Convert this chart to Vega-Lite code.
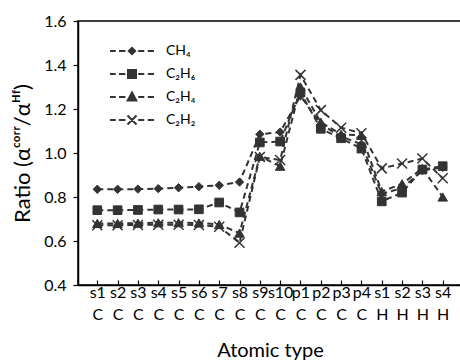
{
  "$schema": "https://vega.github.io/schema/vega-lite/v6.json",
  "width": 384,
  "height": 264,
  "autosize": "none",
  "padding": {"left": 78, "top": 21, "right": 0, "bottom": 77},
  "background": "white",
  "config": {
    "font": "Lato",
    "view": {"stroke": "black", "strokeWidth": 1.5},
    "axis": {"domainColor": "black", "domainWidth": 1.5, "tickColor": "black", "labelColor": "black", "titleColor": "black", "labelFont": "Lato", "titleFont": "Lato", "titleFontWeight": "normal", "grid": false}
  },
  "data": {
    "values": [
      {"i": 0, "atom": "s1|C", "CH4": 0.835, "C2H6": 0.74, "C2H4": 0.68, "C2H2": 0.672},
      {"i": 1, "atom": "s2|C", "CH4": 0.835, "C2H6": 0.74, "C2H4": 0.68, "C2H2": 0.672},
      {"i": 2, "atom": "s3|C", "CH4": 0.836, "C2H6": 0.741, "C2H4": 0.681, "C2H2": 0.673},
      {"i": 3, "atom": "s4|C", "CH4": 0.838, "C2H6": 0.743, "C2H4": 0.683, "C2H2": 0.674},
      {"i": 4, "atom": "s5|C", "CH4": 0.842, "C2H6": 0.743, "C2H4": 0.683, "C2H2": 0.674},
      {"i": 5, "atom": "s6|C", "CH4": 0.847, "C2H6": 0.744, "C2H4": 0.682, "C2H2": 0.673},
      {"i": 6, "atom": "s7|C", "CH4": 0.853, "C2H6": 0.775, "C2H4": 0.675, "C2H2": 0.665},
      {"i": 7, "atom": "s8|C", "CH4": 0.868, "C2H6": 0.73, "C2H4": 0.636, "C2H2": 0.592},
      {"i": 8, "atom": "s9|C", "CH4": 1.085, "C2H6": 1.048, "C2H4": 0.985, "C2H2": 0.982},
      {"i": 9, "atom": "s10|C", "CH4": 1.095, "C2H6": 1.052, "C2H4": 0.94, "C2H2": 0.968},
      {"i": 10, "atom": "p1|C", "CH4": 1.26, "C2H6": 1.275, "C2H4": 1.3, "C2H2": 1.355},
      {"i": 11, "atom": "p2|C", "CH4": 1.13, "C2H6": 1.11, "C2H4": 1.14, "C2H2": 1.195},
      {"i": 12, "atom": "p3|C", "CH4": 1.075, "C2H6": 1.067, "C2H4": 1.085, "C2H2": 1.115},
      {"i": 13, "atom": "p4|C", "CH4": 1.04, "C2H6": 1.02, "C2H4": 1.08, "C2H2": 1.09},
      {"i": 14, "atom": "s1|H", "CH4": 0.815, "C2H6": 0.78, "C2H4": 0.825, "C2H2": 0.93},
      {"i": 15, "atom": "s2|H", "CH4": 0.84, "C2H6": 0.82, "C2H4": 0.86, "C2H2": 0.952},
      {"i": 16, "atom": "s3|H", "CH4": 0.92, "C2H6": 0.925, "C2H4": 0.93, "C2H2": 0.975},
      {"i": 17, "atom": "s4|H", "CH4": 0.935, "C2H6": 0.94, "C2H4": 0.8, "C2H2": 0.885}
    ]
  },
  "transform": [
    {"fold": ["CH4", "C2H6", "C2H4", "C2H2"], "as": ["mol", "v"]}
  ],
  "encoding": {
    "x": {
      "field": "atom", "type": "nominal", "sort": null,
      "scale": {"type": "point", "padding": 0.95},
      "axis": {"title": "Atomic type", "titleFontSize": 20, "titlePadding": 18, "labelAngle": 0, "labelExpr": "split(datum.value, '|')", "labelFontSize": 16, "labelLineHeight": 22, "labelPadding": 4, "tickSize": -5, "tickWidth": 1.2, "labelOverlap": false}
    },
    "y": {
      "field": "v", "type": "quantitative",
      "scale": {"domain": [0.4, 1.6], "nice": false, "zero": false},
      "axis": {"title": "Ratio (αᶜᵒʳʳ/αᴴᶠ)", "titleFontSize": 22, "titlePadding": 9, "values": [0.4, 0.6, 0.8, 1.0, 1.2, 1.4, 1.6], "format": ".1f", "labelFontSize": 16, "tickSize": 5, "tickWidth": 1.2, "labelPadding": 7}
    }
  },
  "layer": [
    {
      "mark": {"type": "line", "strokeDash": [6, 4], "strokeWidth": 2, "color": "#333"},
      "encoding": {"detail": {"field": "mol"}, "order": {"field": "i"}}
    },
    {
      "transform": [{"filter": "datum.mol == 'CH4'"}],
      "mark": {"type": "point", "shape": "diamond", "filled": true, "fill": "#333", "stroke": "#333", "strokeWidth": 1, "size": 70, "opacity": 1}
    },
    {
      "transform": [{"filter": "datum.mol == 'C2H6'"}],
      "mark": {"type": "point", "shape": "square", "filled": true, "fill": "#333", "stroke": "#333", "strokeWidth": 1, "size": 75, "opacity": 1}
    },
    {
      "transform": [{"filter": "datum.mol == 'C2H4'"}],
      "mark": {"type": "point", "shape": "triangle-up", "filled": true, "fill": "#333", "stroke": "#333", "strokeWidth": 1, "size": 90, "opacity": 1}
    },
    {
      "transform": [{"filter": "datum.mol == 'C2H2'"}],
      "mark": {"type": "point", "shape": "M-1,-1L1,1M-1,1L1,-1", "filled": false, "stroke": "#333", "strokeWidth": 1.5, "size": 100, "opacity": 1}
    },
    {
      "mark": {"type": "point", "filled": true, "opacity": 0},
      "encoding": {
        "color": {
          "field": "mol", "type": "nominal",
          "scale": {"domain": ["CH4", "C2H6", "C2H4", "C2H2"], "range": ["#333", "#333", "#333", "#333"]},
          "legend": {
            "title": null, "orient": "none", "legendX": 43, "legendY": 19,
            "labelFontSize": 14, "labelOffset": 23, "rowPadding": 4, "symbolSize": 400,
            "symbolOpacity": 1, "symbolFillColor": "#333", "symbolStrokeColor": "#333", "symbolStrokeWidth": 2,
            "symbolType": {"expr": "datum.value == 'CH4' ? 'M-2.2,0H-1.63M-1.3,0H-0.66M0.62,0H1.23M1.58,0H2.2M-0.32,0L0,-0.32L0.32,0L0,0.32Z' : datum.value == 'C2H6' ? 'M-2.2,0H-1.63M-1.3,0H-0.66M0.62,0H1.23M1.58,0H2.2M-0.4,-0.4H0.4V0.4H-0.4Z' : datum.value == 'C2H4' ? 'M-2.2,0H-1.63M-1.3,0H-0.66M0.62,0H1.23M1.58,0H2.2M0,-0.45L0.43,0.35L-0.43,0.35Z' : 'M-2.2,0H-1.63M-1.3,0H-0.66M0.62,0H1.23M1.58,0H2.2M-0.45,-0.45L0.45,0.45M-0.45,0.45L0.45,-0.45'"},
            "labelExpr": "datum.value == 'CH4' ? 'CH₄' : datum.value == 'C2H6' ? 'C₂H₆' : datum.value == 'C2H4' ? 'C₂H₄' : 'C₂H₂'"
          }
        }
      }
    }
  ]
}
